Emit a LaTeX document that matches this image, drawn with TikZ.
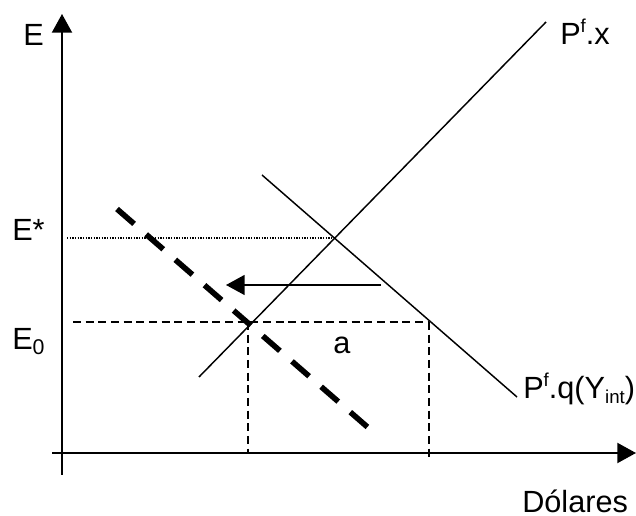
\documentclass[tikz,border=0pt]{standalone}
\usepackage{fontspec}
\setmainfont{Liberation Sans}
\usetikzlibrary{arrows.meta}

\newcommand{\lsup}[1]{\raisebox{9pt}{\fontsize{14}{14}\selectfont #1}}
\newcommand{\lsub}[2][14]{\raisebox{-3.5pt}{\fontsize{#1}{#1}\selectfont #2}}

\begin{document}
\begin{tikzpicture}[
        x=0.75pt, y=-0.75pt,
        >={Triangle[length=14pt, width=15pt]},
        axis/.style={line width=1.5pt},
        curve/.style={line width=1.1pt},
        guide/.style={line width=1.1pt, dash pattern=on 6pt off 3.5pt},
        level/.style={line width=0.8pt, dash pattern=on 1pt off 1pt},
        shifted/.style={line width=4.2pt, dash pattern=on 17pt off 12pt},
        lbl/.style={font=\fontsize{23}{27}\selectfont, inner sep=0pt, anchor=base west}
    ]
        \useasboundingbox (0,0) rectangle (636,516);

        % axes
        \coordinate (O0) at (62,475);
        \coordinate (Ytop) at (62,14);
        \coordinate (X0) at (52,453);
        \coordinate (Xend) at (636,453);
        \draw[axis, ->] (O0) -- (Ytop);
        \draw[axis, ->] (X0) -- (Xend);

        % P^f.x and P^f.q(Y_int)
        \coordinate (Pxa) at (199,377);
        \coordinate (Pxb) at (546,22);
        \coordinate (Pqa) at (262,175);
        \coordinate (Pqb) at (517,397);
        \draw[curve] (Pxa) -- (Pxb);
        \draw[curve] (Pqa) -- (Pqb);

        % shifted curve
        \coordinate (Sa) at (117,209);
        \coordinate (Sb) at (372,431);
        \draw[shifted] (Sa) -- (Sb);

        % levels
        \coordinate (Es) at (67,238);
        \coordinate (Eq) at (335,238);
        \draw[level] (Es) -- (Eq);
        \coordinate (E0a) at (73,322);
        \coordinate (E0b) at (248,322);
        \coordinate (E0c) at (429,322);
        \coordinate (D1) at (248,453);
        \coordinate (D2) at (429,458);
        \draw[guide] (E0a) -- (E0c);
        \draw[guide] (E0b) -- (D1);
        \draw[guide] (E0c) -- (D2);

        % shift arrow
        \coordinate (Aa) at (381,285);
        \coordinate (Ab) at (226,285);
        \draw[curve, ->] (Aa) -- (Ab);

        % labels
        \node[lbl] (lE) at (23,46) {E};
        \node[lbl] (lEs) at (12,241) {E*};
        \node[lbl] (lE0) at (12,350) {E\lsub[16]{0}};
        \node[lbl] (lPx) at (560,45) {P\lsup{f}.x};
        \node[lbl] (lPq) at (523,399) {P\lsup{f}.q(Y\lsub{int})};
        \node[lbl] (la) at (333,354) {a};
        \node[lbl] (lD) at (522,513) {Dólares};
    \end{tikzpicture}
\end{document}
